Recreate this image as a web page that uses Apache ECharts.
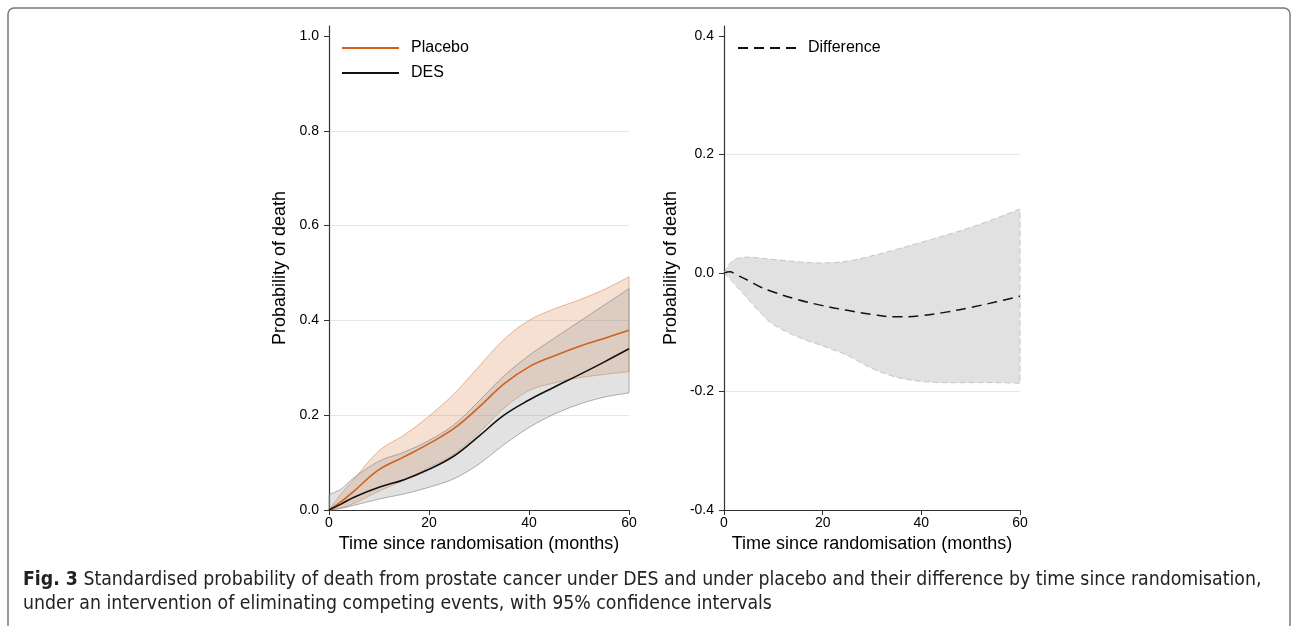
<!DOCTYPE html>
<html>
<head>
<meta charset="utf-8">
<script src="https://cdn.jsdelivr.net/npm/echarts@6/dist/echarts.min.js"></script>
<style>
html,body{margin:0;padding:0;background:#fff;}
#main{width:1292px;height:626px;}
</style>
</head>
<body>
<div id="main"></div>
<script>
// months since randomisation (left panel)
var monthsL = [0, 2.5, 5, 10, 15, 20, 25, 30, 35, 40, 45, 50, 55, 60];
// placebo: estimate and 95% CI
var placebo   = [0, 0.018, 0.040, 0.085, 0.112, 0.140, 0.172, 0.217, 0.266, 0.302, 0.325, 0.345, 0.362, 0.379];
var placeboHi = [0, 0.035, 0.065, 0.125, 0.158, 0.198, 0.245, 0.303, 0.360, 0.400, 0.424, 0.443, 0.465, 0.492];
var placeboLo = [0, 0.004, 0.014, 0.040, 0.063, 0.090, 0.118, 0.163, 0.215, 0.252, 0.268, 0.279, 0.286, 0.292];
// DES: estimate and 95% CI
var des   = [0, 0.013, 0.027, 0.048, 0.064, 0.086, 0.114, 0.156, 0.200, 0.232, 0.259, 0.285, 0.312, 0.340];
var desHi = [0.032, 0.045, 0.068, 0.103, 0.122, 0.147, 0.180, 0.230, 0.283, 0.326, 0.362, 0.397, 0.432, 0.467];
var desLo = [0, 0.004, 0.010, 0.023, 0.034, 0.048, 0.066, 0.097, 0.138, 0.174, 0.202, 0.223, 0.238, 0.247];

// months (right panel)
var monthsR = [0, 1.2, 2.5, 5, 7.5, 10, 15, 20, 25, 30, 35, 40, 45, 50, 55, 60];
var diff   = [0, 0.002, -0.003, -0.013, -0.024, -0.032, -0.045, -0.055, -0.063, -0.070, -0.074, -0.072, -0.066, -0.058, -0.049, -0.039];
var diffHi = [0, 0.016, 0.024, 0.027, 0.025, 0.023, 0.019, 0.017, 0.020, 0.029, 0.040, 0.052, 0.064, 0.077, 0.092, 0.108];
var diffLo = [0, -0.010, -0.022, -0.045, -0.068, -0.087, -0.108, -0.123, -0.139, -0.161, -0.176, -0.183, -0.185, -0.185, -0.185, -0.186];

var ticksL = [0, 0.2, 0.4, 0.6, 0.8, 1.0];
var ticksR = [-0.4, -0.2, 0, 0.2, 0.4];

var caption1 = 'Standardised probability of death from prostate cancer under DES and under placebo and their difference by time since randomisation,';
var caption2 = 'under an intervention of eliminating competing events, with 95% confidence intervals';

function pairs(xs, ys){
	var out = [];
	for(var i=0; i<xs.length; i++){
		out.push([xs[i], ys[i]]);
	}
	return out;
}

// catmull-rom through screen points, only for drawing the band outline smoothly
function smoothPts(p){
	var out = [p[0]];
	for(var i=0; i<p.length-1; i++){
		var p0 = p[i-1] || p[i], p1 = p[i], p2 = p[i+1], p3 = p[i+2] || p[i+1];
		var c1 = [p1[0] + (p2[0]-p0[0])/6, p1[1] + (p2[1]-p0[1])/6];
		var c2 = [p2[0] - (p3[0]-p1[0])/6, p2[1] - (p3[1]-p1[1])/6];
		for(var k=1; k<=10; k++){
			var t = k/10, u = 1-t;
			out.push([
				u*u*u*p1[0] + 3*u*u*t*c1[0] + 3*u*t*t*c2[0] + t*t*t*p2[0],
				u*u*u*p1[1] + 3*u*u*t*c1[1] + 3*u*t*t*c2[1] + t*t*t*p2[1]
			]);
		}
	}
	return out;
}

function bandSeries(name, axisIdx, xs, lo, hi, fill, stroke, dash, z){
	return {
		name: name, type: 'custom', xAxisIndex: axisIdx, yAxisIndex: axisIdx, z: z,
		silent: true,
		data: [[xs[0], lo[0]], [xs[xs.length-1], hi[hi.length-1]]],
		renderItem: function(params, api){
			if(params.dataIndex !== 0) return null;
			var up = [], down = [];
			for(var i=0; i<xs.length; i++){
				up.push(api.coord([xs[i], hi[i]]));
				down.push(api.coord([xs[i], lo[i]]));
			}
			var pts = smoothPts(up).concat(smoothPts(down).reverse());
			return {
				type: 'polygon',
				shape: {points: pts},
				style: {fill: fill, stroke: stroke, lineWidth: 1, lineDash: dash}
			};
		}
	};
}

var FONT = '"Liberation Sans", Arial, sans-serif';
var CAPFONT = '"Liberation Sans Narrow", "DejaVu Sans Condensed", sans-serif';
var gridColor = '#dfe9ec';

function isTick(v, list){
	for(var i=0; i<list.length; i++){
		if(Math.abs(v - list[i]) < 1e-6) return true;
	}
	return false;
}

function yAxisOpt(idx, min, max, ticks, splitColors, gap){
	return {
		type: 'value', gridIndex: idx, min: min, max: max, interval: 0.2,
		name: 'Probability of death', nameLocation: 'middle', nameGap: gap,
		nameTextStyle: {fontFamily: FONT, fontSize: 18, color: '#000'},
		axisLine: {show: true, onZero: false, lineStyle: {color: '#333', width: 1.2}},
		axisTick: {show: true, length: 5, lineStyle: {color: '#333'}, customValues: ticks},
		axisLabel: {
			fontFamily: FONT, fontSize: 14, color: '#000', margin: 10, customValues: ticks,
			formatter: function(v){ return isTick(v, ticks) ? v.toFixed(1) : ''; }
		},
		splitLine: {show: true, lineStyle: {color: splitColors, width: 1}}
	};
}

function xAxisOpt(idx){
	return {
		type: 'value', gridIndex: idx, min: 0, max: 60, interval: 20,
		name: 'Time since randomisation (months)', nameLocation: 'middle', nameGap: 23,
		nameTextStyle: {fontFamily: FONT, fontSize: 18, color: '#000'},
		axisLine: {show: true, onZero: false, lineStyle: {color: '#333', width: 1.2}},
		axisTick: {show: true, length: 5, lineStyle: {color: '#333'}},
		axisLabel: {fontFamily: FONT, fontSize: 14, color: '#000', margin: 6},
		splitLine: {show: false}
	};
}

var dom = document.getElementById('main');
var myChart = echarts.init(dom, null, {renderer: 'canvas'});

var option = {
	backgroundColor: '#fff',
	animation: false,
	grid: [
		{left: 329, top: 26, width: 300, height: 484},
		{left: 724, top: 26, width: 296, height: 484}
	],
	xAxis: [xAxisOpt(0), xAxisOpt(1)],
	yAxis: [
		yAxisOpt(0, 0, 1.021, ticksL, ['transparent', gridColor, gridColor, gridColor, gridColor, 'transparent', 'transparent'], 40),
		yAxisOpt(1, -0.4, 0.417, ticksR, ['transparent', gridColor, gridColor, gridColor, 'transparent', 'transparent'], 44)
	],
	legend: [
		{
			data: ['Placebo', 'DES'], orient: 'vertical', left: 336, top: 35,
			itemWidth: 57, itemHeight: 14, itemGap: 9,
			itemStyle: {opacity: 0},
			textStyle: {fontFamily: FONT, fontSize: 16, color: '#000', padding: [0, 0, 0, 7]}
		},
		{
			data: ['Difference'], orient: 'vertical', left: 732, top: 35,
			itemWidth: 58, itemHeight: 14,
			itemStyle: {opacity: 0},
			textStyle: {fontFamily: FONT, fontSize: 16, color: '#000', padding: [0, 0, 0, 7]}
		}
	],
	graphic: [
		{
			type: 'rect', silent: true,
			shape: {x: 8, y: 8, width: 1282, height: 700, r: 6},
			style: {fill: 'none', stroke: '#7a7a7a', lineWidth: 1.5}
		},
		{
			type: 'text', left: 23, top: 570, silent: true,
			style: {
				text: '{b|Fig. 3} ' + caption1,
				font: '19.3px ' + CAPFONT,
				fill: '#222',
				rich: {
					b: {fontWeight: 'bold', fontSize: 19.3, fontFamily: CAPFONT, fill: '#222'}
				}
			}
		},
		{
			type: 'text', left: 23, top: 594, silent: true,
			style: {
				text: caption2,
				font: '19.3px ' + CAPFONT,
				fill: '#222'
			}
		}
	],
	series: [
		bandSeries('placeboCI', 0, monthsL, placeboLo, placeboHi, 'rgba(219,131,75,0.25)', 'rgba(225,150,105,0.7)', null, 1),
		bandSeries('desCI', 0, monthsL, desLo, desHi, 'rgba(160,160,160,0.3)', 'rgba(140,140,140,0.7)', null, 2),
		{
			name: 'Placebo', type: 'line', xAxisIndex: 0, yAxisIndex: 0,
			smooth: 0.4, symbol: 'none', z: 5,
			lineStyle: {color: '#d2601a', width: 1.6},
			itemStyle: {color: '#d2601a'},
			data: pairs(monthsL, placebo)
		},
		{
			name: 'DES', type: 'line', xAxisIndex: 0, yAxisIndex: 0,
			smooth: 0.4, symbol: 'none', z: 5,
			lineStyle: {color: '#111', width: 1.6},
			itemStyle: {color: '#111'},
			data: pairs(monthsL, des)
		},
		bandSeries('diffCI', 1, monthsR, diffLo, diffHi, '#e1e1e1', '#c4c4c4', [6, 3], 1),
		{
			name: 'Difference', type: 'line', xAxisIndex: 1, yAxisIndex: 1,
			smooth: 0.4, symbol: 'none', z: 5,
			lineStyle: {color: '#111', width: 1.5, type: [10, 6]},
			itemStyle: {color: '#111'},
			data: pairs(monthsR, diff)
		}
	]
};

myChart.setOption(option, true);
</script>
</body>
</html>
